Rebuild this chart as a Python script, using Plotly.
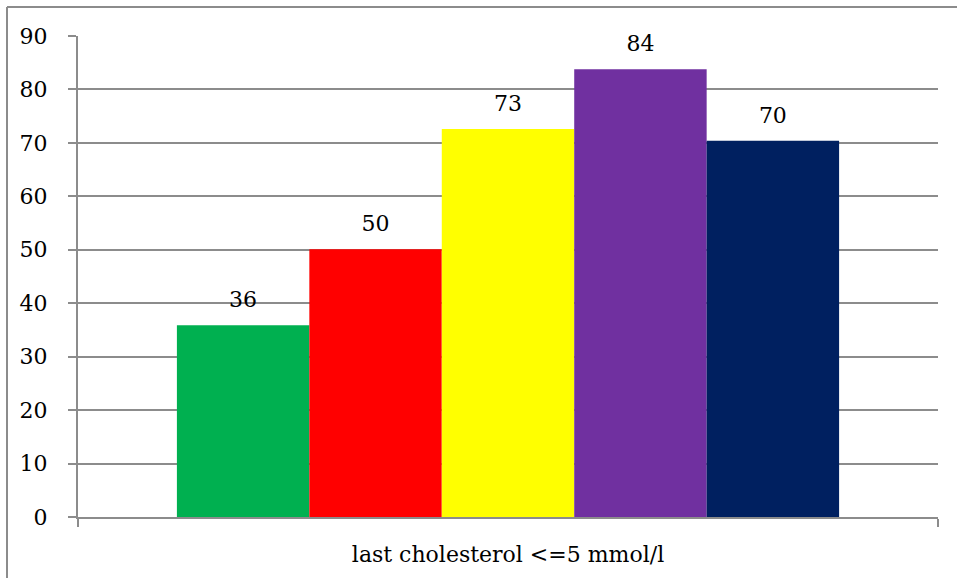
import plotly.graph_objects as go

category = ["last cholesterol <=5 mmol/l"]
series_names = ["Series 1", "Series 2", "Series 3", "Series 4", "Series 5"]
values = [35.9, 50.1, 72.6, 83.8, 70.4]
labels = ["36", "50", "73", "84", "70"]
colors = ["#00B050", "#FF0000", "#FFFF00", "#7030A0", "#002060"]

FONT = "DejaVu Serif"
GRID = "#8C8C8C"

fig = go.Figure()
for i, (name, v, c) in enumerate(zip(series_names, values, colors)):
    fig.add_trace(go.Bar(
        x=category, y=[v], name=name, offsetgroup=str(i),
        marker=dict(color=c, line=dict(width=0)),
    ))
for i, (name, v, lab) in enumerate(zip(series_names, values, labels)):
    fig.add_trace(go.Scatter(
        x=category, y=[v], name=name + " label", offsetgroup=str(i),
        mode="markers+text", text=[lab], textposition="top center",
        marker=dict(size=18, opacity=0), cliponaxis=False, hoverinfo="skip",
        textfont=dict(family=FONT, size=22, color="black"),
    ))

fig.update_layout(
    width=957, height=578,
    margin=dict(l=78, r=19, t=36, b=61),
    paper_bgcolor="white", plot_bgcolor="white",
    barmode="group", bargap=0.23, bargroupgap=0,
    scattermode="group", scattergap=0.23,
    showlegend=False,
    font=dict(family=FONT, size=22, color="black"),
    xaxis=dict(
        type="category", tickson="boundaries", ticks="outside", ticklen=8,
        tickcolor=GRID, tickwidth=2, showline=True, linecolor=GRID, linewidth=2,
        showgrid=False, ticklabelstandoff=17,
        tickfont=dict(family=FONT, size=22, color="black"),
    ),
    yaxis=dict(
        range=[0, 90], dtick=10, ticks="outside", ticklen=8, tickcolor=GRID,
        tickwidth=2, showline=True, linecolor=GRID, linewidth=2,
        showgrid=True, gridcolor=GRID, gridwidth=2, zeroline=False,
        ticklabelstandoff=16,
        tickfont=dict(family=FONT, size=22, color="black"),
    ),
    shapes=[
        dict(type="line", xref="paper", yref="paper",
             x0=(7 - 78) / 860, x1=(7 - 78) / 860, y0=(578 - 7 - 61) / 481, y1=-61 / 481,
             line=dict(color=GRID, width=2)),
        dict(type="line", xref="paper", yref="paper",
             x0=(7 - 78) / 860, x1=(957 - 78) / 860, y0=(578 - 7 - 61) / 481, y1=(578 - 7 - 61) / 481,
             line=dict(color=GRID, width=2)),
    ],
)

fig.write_html("out.html", config={"displayModeBar": False},
               post_script="document.body.style.margin='0';document.body.style.overflow='hidden';")
